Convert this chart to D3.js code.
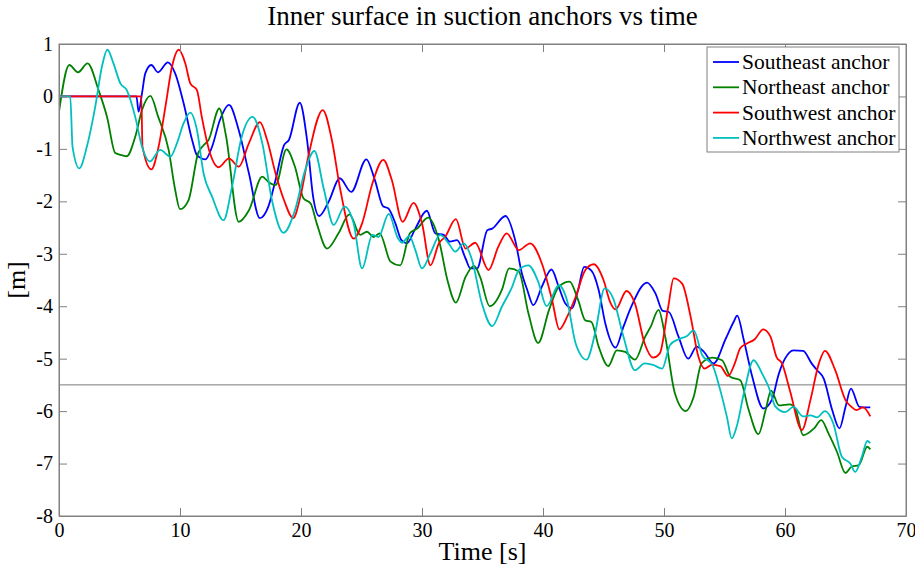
<!DOCTYPE html>
<html>
<head>
<meta charset="utf-8">
<script src="https://cdn.jsdelivr.net/npm/d3@7/dist/d3.min.js"></script>
<style>
  body { margin: 0; background: #fff; }
  text { font-family: "Liberation Serif", "Times New Roman", serif; fill: #000; }
</style>
</head>
<body>
<svg id="chart" width="915" height="570"></svg>
<script>
// Southeast anchor (blue)
var seTime = [0, 6.4, 6.58, 6.86, 7.13, 7.63, 8.18, 9.0, 9.6, 10.3, 11.0, 11.4, 12.1, 12.65, 13.3, 14.05, 14.85, 15.7, 16.6, 17.3, 17.9, 18.6, 19.0, 19.9, 20.5, 21.0, 21.5, 22.3, 23.2, 24.15, 25.4, 26.1, 26.8, 27.2, 27.8, 28.3, 28.75, 29.45, 30.4, 31.1, 31.8, 32.3, 32.9, 33.6, 34.0, 34.55, 35.4, 35.8, 36.9, 37.7, 38.25, 38.7, 39.2, 39.9, 40.7, 41.3, 41.85, 42.4, 42.9, 43.4, 44.0, 44.6, 45.15, 46.0, 46.65, 47.35, 48.6, 49.3, 49.9, 50.4, 51.2, 52.0, 52.7, 53.3, 54.1, 55.1, 55.75, 56.05, 56.6, 57.3, 58.2, 58.9, 59.5, 60.0, 60.7, 61.5, 62.2, 62.65, 63.2, 63.9, 64.5, 65.0, 65.45, 66.15, 66.65, 67.05];
var seValue = [0, 0, -0.29, 0.06, 0.44, 0.6, 0.46, 0.65, 0.44, -0.13, -0.83, -1.12, -1.2, -0.96, -0.45, -0.16, -0.64, -1.47, -2.32, -2.1, -1.59, -0.93, -0.83, -0.12, -0.83, -1.91, -2.28, -2.0, -1.56, -1.82, -1.2, -1.59, -2.1, -2.13, -2.42, -2.74, -2.8, -2.52, -2.18, -2.61, -2.64, -2.77, -2.74, -3.09, -3.28, -3.28, -2.55, -2.52, -2.28, -2.74, -3.37, -3.69, -3.98, -3.63, -3.3, -3.63, -3.95, -4.04, -3.69, -3.25, -3.32, -3.69, -4.33, -4.79, -4.39, -3.98, -3.55, -3.76, -4.09, -4.11, -4.58, -5.0, -4.77, -4.87, -5.09, -4.62, -4.3, -4.18, -4.65, -5.35, -5.95, -5.79, -5.28, -5.0, -4.84, -4.85, -5.09, -5.22, -5.38, -5.98, -6.33, -5.92, -5.57, -5.92, -5.93, -5.93];

// Northeast anchor (green)
var neTime = [0, 0.85, 1.57, 2.36, 3.27, 3.97, 4.65, 5.2, 5.6, 6.3, 6.86, 7.55, 8.2, 9.06, 9.6, 10.0, 10.7, 11.5, 11.95, 12.36, 13.25, 13.8, 14.85, 15.7, 16.8, 17.3, 17.9, 18.8, 19.5, 20.2, 20.8, 21.3, 22.15, 23.1, 24.0, 24.9, 25.45, 26.0, 26.5, 27.4, 28.2, 29.0, 29.6, 30.5, 31.4, 32.1, 32.8, 33.6, 34.3, 34.8, 35.6, 36.6, 37.2, 38.0, 38.8, 39.6, 40.5, 41.3, 42.2, 42.9, 43.5, 44.0, 44.6, 45.4, 46.1, 46.8, 47.6, 48.45, 48.9, 49.55, 50.1, 50.9, 51.8, 52.45, 53.1, 54.0, 54.8, 55.5, 56.3, 57.0, 57.8, 58.4, 58.85, 59.5, 60.4, 60.85, 61.5, 62.4, 63.0, 63.6, 64.3, 65.0, 65.5, 66.1, 66.8, 67.05];
var neValue = [-0.29, 0.6, 0.46, 0.63, 0.12, -0.39, -1.08, -1.12, -1.14, -0.77, -0.26, 0.01, -0.39, -1.02, -1.78, -2.15, -1.98, -1.08, -0.93, -0.83, -0.23, -0.75, -2.39, -2.17, -1.53, -1.63, -1.69, -1.01, -1.34, -1.94, -2.04, -2.42, -2.9, -2.61, -2.25, -2.64, -2.58, -2.68, -2.61, -3.15, -3.22, -2.61, -2.52, -2.31, -2.74, -3.5, -3.93, -3.44, -3.23, -3.44, -4.0, -3.69, -3.28, -3.34, -4.14, -4.7, -4.07, -3.63, -3.53, -3.88, -4.27, -4.3, -4.77, -5.14, -4.84, -4.87, -5.02, -4.58, -4.39, -4.07, -4.58, -5.66, -6.0, -5.73, -5.09, -4.98, -5.03, -5.35, -5.41, -5.98, -6.44, -5.98, -5.61, -5.89, -5.87, -5.95, -6.46, -6.33, -6.17, -6.43, -6.78, -7.18, -7.06, -7.03, -6.68, -6.73];

// Southwest anchor (red)
var swTime = [0, 6.8, 6.9, 7.63, 8.23, 8.8, 9.34, 9.9, 10.44, 10.85, 11.4, 11.8, 12.4, 13.2, 14.05, 14.85, 15.7, 16.6, 17.2, 17.9, 18.6, 19.35, 19.95, 20.6, 21.8, 22.55, 23.25, 24.35, 25.05, 25.9, 26.8, 27.5, 28.4, 29.3, 30.0, 30.7, 31.4, 31.9, 32.8, 33.6, 34.4, 35.5, 36.3, 37.0, 38.0, 38.95, 39.9, 40.75, 41.35, 42.0, 42.7, 43.5, 44.2, 45.0, 45.55, 46.0, 46.9, 47.6, 48.4, 49.1, 49.65, 50.35, 50.8, 51.5, 52.2, 52.85, 53.35, 53.95, 54.65, 55.3, 55.85, 56.3, 56.85, 57.5, 58.2, 58.8, 59.3, 59.75, 60.4, 61.4, 62.1, 62.8, 63.3, 64.15, 65.0, 65.5, 65.9, 66.45, 67.05];
var swValue = [0, 0, -0.96, -1.39, -0.96, -0.19, 0.57, 0.89, 0.63, 0.25, 0.12, -0.39, -1.02, -1.35, -1.18, -1.34, -0.89, -0.49, -0.83, -1.47, -1.98, -2.32, -1.91, -1.15, -0.26, -0.83, -1.78, -2.71, -2.42, -1.66, -1.21, -1.59, -2.39, -2.03, -2.42, -3.22, -2.8, -2.68, -2.34, -2.9, -2.79, -3.31, -2.87, -2.61, -2.93, -2.8, -3.18, -3.88, -4.44, -4.2, -3.82, -3.31, -3.2, -3.5, -3.92, -4.06, -3.71, -3.95, -4.71, -4.98, -4.9, -4.01, -3.47, -3.57, -4.2, -4.97, -5.19, -5.12, -5.14, -5.33, -5.09, -4.8, -4.71, -4.63, -4.44, -4.58, -4.97, -5.09, -5.6, -6.36, -5.79, -5.09, -4.85, -5.22, -5.79, -5.92, -5.98, -5.93, -6.1];

// Northwest anchor (cyan)
var nwTime = [0, 0.93, 1.12, 1.68, 2.3, 3.0, 3.55, 4.0, 4.5, 5.07, 5.6, 6.3, 6.86, 7.5, 8.37, 9.2, 9.75, 10.3, 10.85, 11.4, 11.95, 12.65, 13.6, 14.3, 15.1, 16.0, 16.8, 17.6, 18.55, 19.5, 20.35, 21.1, 21.9, 22.7, 23.6, 24.35, 25.05, 25.9, 26.4, 27.25, 28.0, 28.35, 28.95, 29.45, 30.0, 30.7, 31.5, 32.2, 32.75, 33.45, 34.1, 34.95, 35.8, 36.6, 37.45, 38.0, 38.8, 39.6, 40.3, 41.3, 42.0, 42.7, 43.6, 44.3, 45.1, 45.8, 46.65, 47.6, 48.4, 49.1, 49.85, 50.5, 51.2, 51.9, 52.45, 53.15, 54.0, 54.65, 55.2, 55.6, 56.0, 56.6, 57.4, 58.1, 58.65, 59.2, 60.0, 60.7, 61.5, 62.1, 62.65, 63.3, 64.0, 64.7, 65.4, 65.8, 66.35, 66.8, 67.05];
var nwValue = [0, 0, -0.96, -1.37, -0.96, -0.19, 0.57, 0.89, 0.63, 0.25, 0.12, -0.39, -0.96, -1.24, -1.02, -1.15, -0.89, -0.51, -0.31, -0.64, -1.47, -1.91, -2.36, -1.72, -0.77, -0.39, -0.89, -1.98, -2.6, -2.17, -1.4, -1.04, -1.78, -2.45, -2.1, -2.42, -3.28, -2.64, -2.68, -2.24, -2.7, -2.79, -2.66, -2.93, -3.28, -2.99, -2.64, -2.8, -2.96, -2.8, -3.09, -3.95, -4.38, -4.01, -3.63, -3.31, -3.22, -3.53, -4.0, -3.6, -3.9, -4.71, -5.02, -4.52, -3.66, -3.85, -4.58, -5.22, -5.09, -5.12, -5.19, -4.74, -4.63, -4.57, -4.46, -4.93, -5.12, -5.6, -6.11, -6.52, -6.3, -5.66, -5.03, -5.28, -5.54, -5.91, -6.02, -5.92, -6.1, -6.08, -6.12, -6.0, -6.24, -6.87, -7.0, -7.16, -6.87, -6.57, -6.61];

var seriesNames = ["Southeast anchor", "Northeast anchor", "Southwest anchor", "Northwest anchor"];
var seriesColors = ["#0000ff", "#008000", "#ff0000", "#00bfbf"];
var seriesTimes = [seTime, neTime, swTime, nwTime];
var seriesValues = [seValue, neValue, swValue, nwValue];

var xTicks = [0, 10, 20, 30, 40, 50, 60, 70];
var yTicks = [1, 0, -1, -2, -3, -4, -5, -6, -7, -8];
var refLevel = -5.5;

var margin = { top: 44, right: 9, bottom: 54, left: 59 };
var width = 915 - margin.left - margin.right;
var height = 570 - margin.top - margin.bottom;
var axisColor = "#808080";

var svg = d3.select("#chart");
var g = svg.append("g").attr("transform", "translate(" + margin.left + "," + margin.top + ")");

var x = d3.scaleLinear().domain([0, 70]).range([0, width]);
var y = d3.scaleLinear().domain([-8, 1]).range([height, 0]);

g.append("defs").append("clipPath").attr("id", "clip")
    .append("rect").attr("width", width).attr("height", height);

// reference line
g.append("line")
    .attr("x1", 0).attr("x2", width)
    .attr("y1", y(refLevel)).attr("y2", y(refLevel))
    .attr("stroke", "#7a7a7a").attr("stroke-width", 1);

// lines
var line = d3.line()
    .x(d => x(d[0]))
    .y(d => y(d[1]))
    .curve(d3.curveMonotoneX);

seriesNames.forEach(function(name, i) {
    var pts = seriesTimes[i].map((t, j) => [t, seriesValues[i][j]]);
    g.append("path")
        .datum(pts)
        .attr("clip-path", "url(#clip)")
        .attr("fill", "none")
        .attr("stroke", seriesColors[i])
        .attr("stroke-width", 1.8)
        .attr("d", line);
});

// box
g.append("rect")
    .attr("width", width).attr("height", height)
    .attr("fill", "none").attr("stroke", axisColor).attr("stroke-width", 1);

// axes with inward ticks
var tickLen = 8;
var fmt = d => String(d);
var xAxisB = g.append("g").attr("transform", "translate(0," + height + ")")
    .call(d3.axisBottom(x).tickValues(xTicks).tickFormat(fmt).tickSizeInner(-tickLen).tickSizeOuter(0).tickPadding(5));
var xAxisT = g.append("g")
    .call(d3.axisTop(x).tickValues(xTicks).tickSizeInner(-tickLen).tickSizeOuter(0).tickFormat(""));
var yAxisL = g.append("g")
    .call(d3.axisLeft(y).tickValues(yTicks).tickFormat(fmt).tickSizeInner(-tickLen).tickSizeOuter(0).tickPadding(5));
var yAxisR = g.append("g").attr("transform", "translate(" + width + ",0)")
    .call(d3.axisRight(y).tickValues(yTicks).tickSizeInner(-tickLen).tickSizeOuter(0).tickFormat(""));

[xAxisB, xAxisT, yAxisL, yAxisR].forEach(function(a) {
    a.select(".domain").attr("stroke", axisColor);
    a.selectAll(".tick line").attr("stroke", axisColor);
    a.selectAll("text").style("font-family", "Liberation Serif, serif").style("font-size", "20px").attr("fill", "#000");
});
xAxisB.selectAll("text").attr("dy", "0.8em");
yAxisL.selectAll("text").attr("dx", "-1");

// title and axis labels
svg.append("text")
    .attr("x", margin.left + width / 2).attr("y", 25)
    .attr("text-anchor", "middle")
    .style("font-size", "27px")
    .text("Inner surface in suction anchors vs time");

svg.append("text")
    .attr("x", margin.left + width / 2).attr("y", 560)
    .attr("text-anchor", "middle")
    .style("font-size", "26px")
    .text("Time [s]");

svg.append("text")
    .attr("transform", "translate(25," + (margin.top + height / 2) + ") rotate(-90)")
    .attr("text-anchor", "middle")
    .style("font-size", "26px")
    .text("[m]");

// legend
var legend = svg.append("g").attr("transform", "translate(707,47)");
legend.append("rect")
    .attr("width", 192).attr("height", 105)
    .attr("fill", "#fff").attr("stroke", axisColor).attr("stroke-width", 1);

seriesNames.forEach(function(name, i) {
    var row = legend.append("g").attr("transform", "translate(0," + (15 + i * 25.3) + ")");
    row.append("line")
        .attr("x1", 6).attr("x2", 32)
        .attr("y1", 0).attr("y2", 0)
        .attr("stroke", seriesColors[i]).attr("stroke-width", 1.8);
    row.append("text")
        .attr("x", 35).attr("y", 0).attr("dy", "0.33em")
        .style("font-size", "21.5px")
        .text(name);
});
</script>
</body>
</html>
